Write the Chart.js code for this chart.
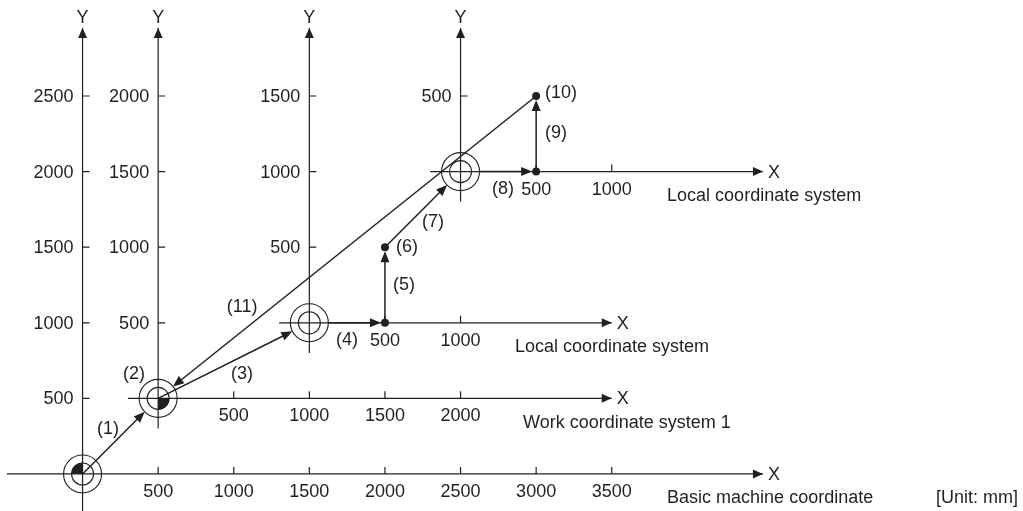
<!DOCTYPE html>
<html>
<head>
<meta charset="utf-8">
<script src="https://cdn.jsdelivr.net/npm/chart.js@4"></script>
<style>
  body { margin: 0; background: #fff; }
  #wrap { width: 1023px; height: 511px; }
</style>
</head>
<body>
<div id="wrap"><canvas id="diagram" width="1023" height="511"></canvas></div>
<script>
// coordinate systems, origins given in basic machine coordinates (mm)
const systemNames = ['Basic machine coordinate', 'Work coordinate system 1', 'Local coordinate system', 'Local coordinate system'];
const originX = [0, 500, 1500, 2500];
const originY = [0, 500, 1000, 2000];
const xTickLabels = [
  [500, 1000, 1500, 2000, 2500, 3000, 3500],
  [500, 1000, 1500, 2000],
  [500, 1000],
  [500, 1000]
];
const yTickLabels = [
  [500, 1000, 1500, 2000, 2500],
  [500, 1000, 1500, 2000],
  [500, 1000, 1500],
  [500]
];

// travel path (basic machine coordinates)
const pathX = [0, 500, 1500, 2000, 2000, 2500, 3000, 3000, 500];
const pathY = [0, 500, 1000, 1000, 1500, 2000, 2000, 2500, 500];
const moveLabels = ['(1)', '(3)', '(4)', '(5)', '(7)', '(8)', '(9)', '(11)'];
const pointLabels = ['(2)', '(6)', '(10)'];
const dotIdx = [3, 4, 6, 7];
const unitLabel = '[Unit: mm]';

// layout (data units of the basic system)
const moveLabelX = [169, 1055, 1749, 2126, 2318, 2781, 3132, 1055];
const moveLabelY = [298, 661, 886, 1250, 1667, 1885, 2255, 1104];
const pointLabelX = [341, 2146, 3165];
const pointLabelY = [661, 1501, 2520];
const nameX = [3866, 2913, 2860, 3866];
const nameY = [-159, 337, 840, 1839];
const axisXEnd = [4500, 3500, 3500, 4500];
const axisYEnd = 2950;
const axisBackX = [500, 200, 200, 200];
const axisBackY = [260, 200, 200, 200];
const originFill = [[Math.PI, 1.5 * Math.PI], [0, 0.5 * Math.PI], null, null];
const trimStart = [0, 0, 19, 0, 0, 19, 0, 0];
const trimEnd = [19, 19, 4, 4, 19, 4, 4, 19];

const INK = '#231f20';
const FONT = '18px "Liberation Sans", Arial, sans-serif';

function arrowHead(ctx, x1, y1, x2, y2, len, half) {
  const a = Math.atan2(y2 - y1, x2 - x1);
  ctx.beginPath();
  ctx.moveTo(x2, y2);
  ctx.lineTo(x2 - len * Math.cos(a) + half * Math.sin(a), y2 - len * Math.sin(a) - half * Math.cos(a));
  ctx.lineTo(x2 - len * Math.cos(a) - half * Math.sin(a), y2 - len * Math.sin(a) + half * Math.cos(a));
  ctx.closePath();
  ctx.fill();
}

const diagramPlugin = {
  id: 'diagram',
  beforeDatasetsDraw(chart) {
    const ctx = chart.ctx;
    const X = v => chart.scales.x.getPixelForValue(v);
    const Y = v => chart.scales.y.getPixelForValue(v);
    ctx.save();
    ctx.strokeStyle = INK;
    ctx.fillStyle = INK;
    ctx.font = FONT;

    systemNames.forEach((name, i) => {
      const ox = X(originX[i]), oy = Y(originY[i]);
      // axes
      ctx.lineWidth = 1.2;
      ctx.beginPath();
      ctx.moveTo(X(originX[i] - axisBackX[i]), oy);
      ctx.lineTo(X(axisXEnd[i]), oy);
      ctx.moveTo(ox, Y(originY[i] - axisBackY[i]));
      ctx.lineTo(ox, Y(axisYEnd));
      ctx.stroke();
      arrowHead(ctx, ox, oy, X(axisXEnd[i]), oy, 10, 4.5);
      arrowHead(ctx, ox, oy, ox, Y(axisYEnd), 10, 4.5);
      ctx.textAlign = 'left';
      ctx.textBaseline = 'middle';
      ctx.fillText('X', X(axisXEnd[i]) + 5, oy + 1);
      ctx.textAlign = 'center';
      ctx.fillText('Y', ox, Y(axisYEnd) - 10);

      // ticks and labels
      ctx.beginPath();
      xTickLabels[i].forEach(t => {
        const px = X(originX[i] + t);
        ctx.moveTo(px, oy);
        ctx.lineTo(px, oy - 7);
      });
      yTickLabels[i].forEach(t => {
        const py = Y(originY[i] + t);
        ctx.moveTo(ox, py);
        ctx.lineTo(ox + 7, py);
      });
      ctx.stroke();
      ctx.textAlign = 'center';
      xTickLabels[i].forEach(t => ctx.fillText(String(t), X(originX[i] + t), oy + 18));
      ctx.textAlign = 'right';
      yTickLabels[i].forEach(t => ctx.fillText(String(t), ox - 9, Y(originY[i] + t) + 1));

      // system name
      ctx.textAlign = 'left';
      ctx.fillText(name, X(nameX[i]), Y(nameY[i]));

      // origin mark
      ctx.lineWidth = 1.1;
      ctx.beginPath();
      ctx.arc(ox, oy, 19, 0, 2 * Math.PI);
      ctx.stroke();
      ctx.beginPath();
      ctx.arc(ox, oy, 11, 0, 2 * Math.PI);
      ctx.stroke();
      if (originFill[i]) {
        ctx.beginPath();
        ctx.moveTo(ox, oy);
        ctx.arc(ox, oy, 11, originFill[i][0], originFill[i][1]);
        ctx.closePath();
        ctx.fill();
      }
    });

    ctx.textAlign = 'left';
    ctx.fillText(unitLabel, X(5645), Y(-159));

    // movements
    ctx.lineWidth = 1.5;
    for (let k = 0; k < pathX.length - 1; k++) {
      let x1 = X(pathX[k]), y1 = Y(pathY[k]);
      let x2 = X(pathX[k + 1]), y2 = Y(pathY[k + 1]);
      const d = Math.hypot(x2 - x1, y2 - y1);
      const ux = (x2 - x1) / d, uy = (y2 - y1) / d;
      x1 += ux * trimStart[k]; y1 += uy * trimStart[k];
      x2 -= ux * trimEnd[k]; y2 -= uy * trimEnd[k];
      ctx.beginPath();
      ctx.moveTo(x1, y1);
      ctx.lineTo(x2 - ux * 6, y2 - uy * 6);
      ctx.stroke();
      arrowHead(ctx, x1, y1, x2, y2, 11, 4.5);
    }

    ctx.textAlign = 'center';
    moveLabels.forEach((s, k) => ctx.fillText(s, X(moveLabelX[k]), Y(moveLabelY[k])));
    pointLabels.forEach((s, k) => ctx.fillText(s, X(pointLabelX[k]), Y(pointLabelY[k])));
    ctx.restore();
  }
};

new Chart(document.getElementById('diagram'), {
  type: 'scatter',
  data: {
    datasets: [{
      data: dotIdx.map(i => ({ x: pathX[i], y: pathY[i] })),
      pointRadius: 4,
      pointBackgroundColor: INK,
      pointBorderWidth: 0,
      showLine: false
    }]
  },
  options: {
    responsive: false,
    devicePixelRatio: 1,
    animation: false,
    layout: { padding: 0, autoPadding: false },
    scales: {
      x: { type: 'linear', min: -546, max: 6220, display: false },
      y: { type: 'linear', min: -245, max: 3135, display: false }
    },
    plugins: {
      legend: { display: false },
      tooltip: { enabled: false }
    }
  },
  plugins: [diagramPlugin]
});
</script>
</body>
</html>
